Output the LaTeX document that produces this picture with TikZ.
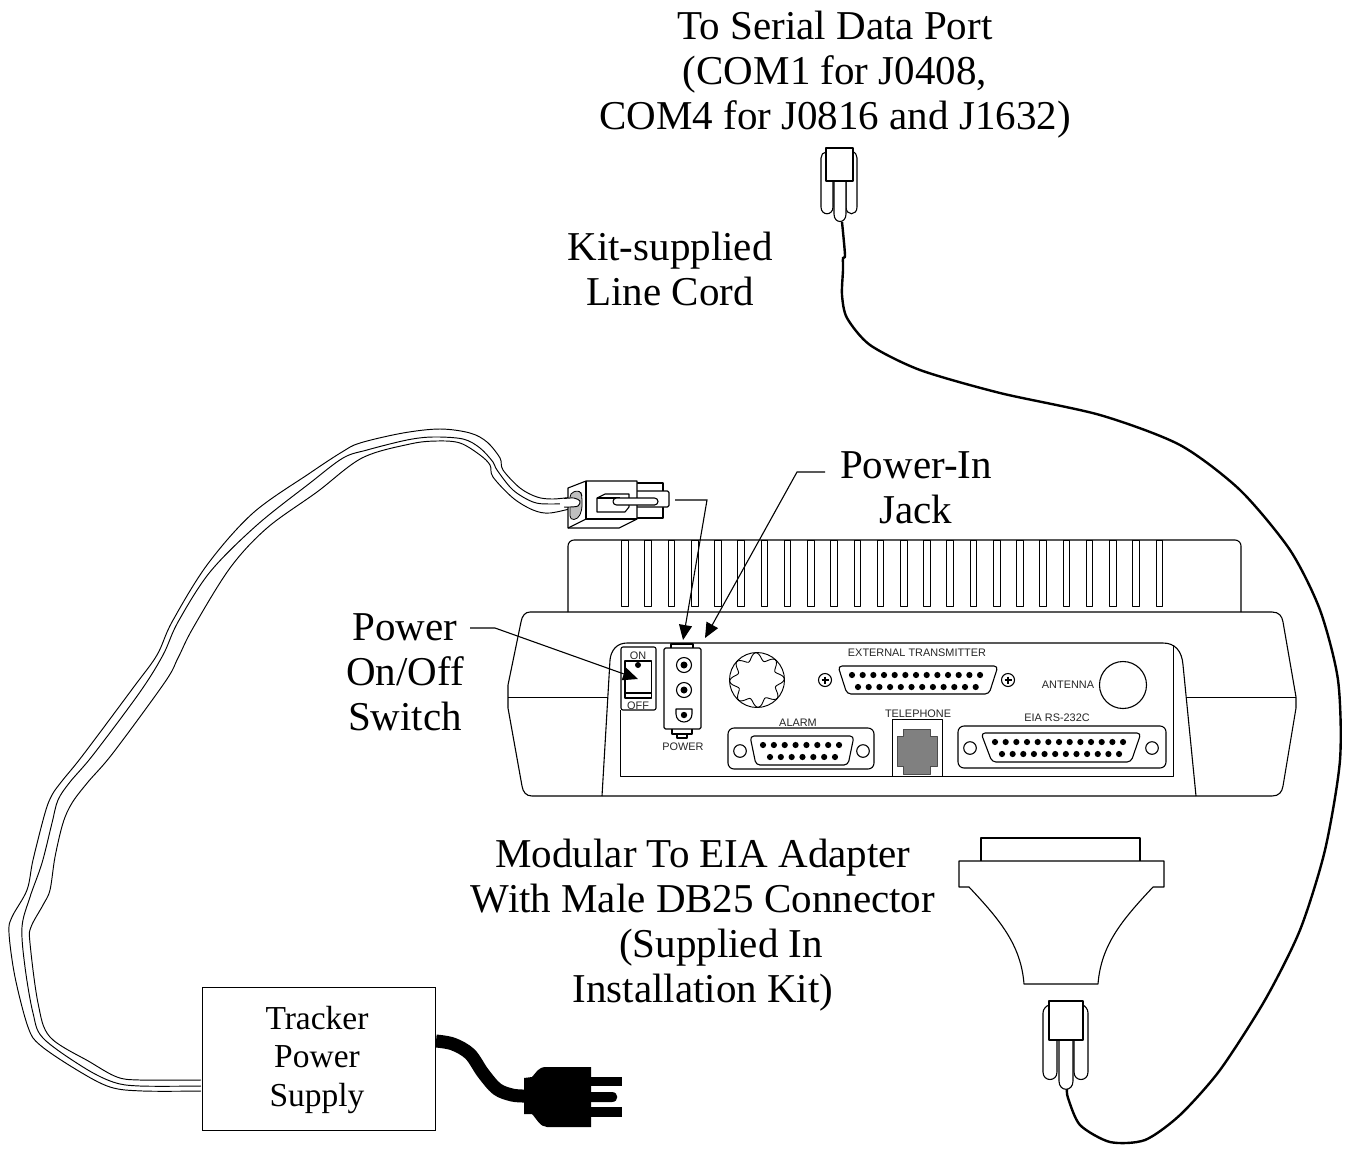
\documentclass[tikz,border=0pt]{standalone}
\usepackage{fontspec}
\setmainfont{Liberation Serif}
\setsansfont{Liberation Sans}
\usetikzlibrary{arrows.meta}
\tikzset{
  ln/.style={line width=1.1pt,line join=round},
  thinln/.style={line width=.95pt,line join=round},
  big/.style={anchor=base,inner sep=0pt,font=\fontsize{41}{45}\selectfont},
  mid/.style={anchor=base,inner sep=0pt,font=\fontsize{33.5}{38}\selectfont},
  small/.style={anchor=base,inner sep=0pt,font=\sffamily\fontsize{10.9}{12}\selectfont,text=black!85},
  leader/.style={line width=1.1pt,-{Triangle[length=15pt,width=13pt]}},
  pindot/.style={fill=black,draw=none},
}
\newcommand{\pinrow}[4]{\foreach \i in {0,...,#3}{\fill[pindot] ({#1+\i*#4},#2) circle (3.1);}}
\begin{document}
\begin{tikzpicture}[x=1pt,y=-1pt]
\useasboundingbox (0,0) rectangle (1351,1149);
% coordinates for the leaders
\coordinate (pijA) at (825,472);
\coordinate (pijB) at (797,472);
\coordinate (pijT) at (705,638);
\coordinate (posA) at (470,628);
\coordinate (posB) at (495,628);
\coordinate (posT) at (638,679);
\coordinate (plA) at (675,500);
\coordinate (plB) at (707,500);
\coordinate (plT) at (683,640);
% texts
\node[big] (t1) at (835,39) {To Serial Data Port};
\node[big] (t2) at (835,84) {(COM1 for J0408,};
\node[big] (t3) at (835,129) {COM4 for J0816 and J1632)};
\node[big] (k1) at (670,260) {Kit-supplied};
\node[big] (k2) at (670,305) {Line Cord};
\node[big] (pi1) at (916,478) {Power-In};
\node[big] (pi2) at (916,523) {Jack};
\node[big] (ps1) at (405,640) {Power};
\node[big] (ps2) at (405,685) {On/Off};
\node[big] (ps3) at (405,730) {Switch};
\node[big] (m1) at (703,867) {Modular To EIA Adapter};
\node[big] (m2) at (703,912) {With Male DB25 Connector};
\node[big] (m3) at (721,957) {(Supplied In};
\node[big] (m4) at (703,1002) {Installation Kit)};
% heat sink
\draw[ln,rounded corners=6] (568,612) -- (568,540) -- (1241,540) -- (1241,612);
\foreach \i in {0,...,23}{\draw[thinln] ({621.7+\i*23.23},540) rectangle ({628.3+\i*23.23},606);}
% body
\draw[ln] (530,612) -- (1272,612) .. controls (1279,612) and (1282,616) .. (1283,622)
  -- (1296,697) -- (1296,708) -- (1283,786) .. controls (1282,792) and (1279,796) .. (1272,796)
  -- (532,796) .. controls (526,796) and (523,792) .. (522,786) -- (508,708) -- (508,685) -- (521,622)
  .. controls (522,616) and (525,612) .. (530,612) -- cycle;
\draw[thinln] (508,697) -- (608,697);
\draw[thinln] (1187,697) -- (1296,697);
% panel
\draw[ln] (602,796) -- (610,660) .. controls (611,650) and (617,643) .. (627,643) -- (1163,643)
  .. controls (1175,643) and (1182,651) .. (1183,665) -- (1196,796);
\draw[thinln] (620,710) -- (620,776) -- (1173,776) -- (1173,645);
% switch
\draw[ln,rounded corners=2] (621,647) rectangle (656,710);
\draw[ln] (625,661) rectangle (651.5,698);
\draw[ln] (625,693) -- (651.5,693);
\fill (638,665) circle (3);
\node[small] (on) at (638,659) {ON};
\node[small] (off) at (638,709) {OFF};
% power block
\draw[ln] (671,648) -- (671,644) -- (693,644) -- (693,648);
\draw[ln,rounded corners=1.5] (664,648) rectangle (701,729);
\draw[ln] (672,729) -- (672,734) -- (692,734) -- (692,729);
\draw[ln] (677,734) -- (677,738) -- (687,738) -- (687,734);
\foreach \y in {665,690}{\draw[ln] (684,\y) circle (7.5); \fill (684,\y) circle (3.5);}
\draw[ln] (676,709) -- (692,709) -- (692,714) .. controls (692,719) and (688,722) .. (684,722) .. controls (680,722) and (676,719) .. (676,714) -- cycle;
\fill (684,715) circle (3.2);
\node[small] (pw) at (683,750) {POWER};
% gear
\draw[thinln] (757,680) circle (27.5);
\draw[line width=.9pt,shift={(757,680)}] plot[smooth cycle,samples=96,domain=0:356.25,variable=\t] (\t:{23.5+3.8*cos(8*\t+20)});
% external transmitter
\node[small] (ext) at (917,656) {EXTERNAL TRANSMITTER};
\draw[ln,rounded corners=4] (838,666) -- (998,666) -- (989,694) -- (847,694) -- cycle;
\pinrow{852}{675}{12}{10.67}
\pinrow{858}{687}{11}{10.7}
\foreach \x in {825,1008}{\draw[ln] (\x,680) circle (6.5); \draw[line width=1.4pt] ({\x-3.5},680) -- ({\x+3.5},680) (\x,676.5) -- (\x,683.5);}
% antenna
\node[small] (ant) at (1068,688) {ANTENNA};
\draw[ln] (1123,685) circle (23.5);
% EIA
\node[small] (eia) at (1057,721) {EIA RS-232C};
\draw[ln,rounded corners=6] (958,726) rectangle (1166,768);
\draw[ln] (970,748) circle (6.3);
\draw[ln] (1152,748) circle (6.3);
\draw[ln,rounded corners=4] (981,733) -- (1141,733) -- (1131,762) -- (992,762) -- cycle;
\pinrow{995}{742}{12}{10.67}
\pinrow{1002}{754}{11}{10.64}
% telephone
\node[small] (tel) at (918,717) {TELEPHONE};
\draw[thinln] (892,776) -- (892,719) -- (942,719) -- (942,776);
\draw[thinln,draw=black!70,fill=black!50] (903,729) -- (930,729) -- (930,736) -- (937,736) -- (937,766) -- (930,766) -- (930,774) -- (903,774) -- (903,766) -- (897,766) -- (897,736) -- (903,736) -- cycle;
% alarm
\node[small] (al) at (798,726) {ALARM};
\draw[ln,rounded corners=6] (728,728) rectangle (874,769);
\draw[ln] (740,751) circle (6.3);
\draw[ln] (863,751) circle (6.3);
\draw[ln,rounded corners=4] (750,736) -- (854,736) -- (848,765) -- (756,765) -- cycle;
\pinrow{763}{745}{7}{10.86}
\pinrow{770}{757}{6}{10.83}
% leaders
\draw[leader] (pijA) -- (pijB) -- (pijT);
\draw[leader] (posA) -- (posB) -- (posT);
\draw[leader] (plA) -- (plB) -- (plT);
% power cord: three strands
\draw[thinln] plot[smooth,tension=0.55] coordinates {(201,1091)(143,1091)(110,1087)(77,1070)(40,1045)(28,1027)(15,977)(9,933)(12,917)(27,890)(33,860)(45,813)(52,795)(62,781)(83,755)(133,688)(157,655)(172,622)(207,565)(253,513)(310,473)(342,452)(360,443)(403,433)(440,429)(470,433)(487,442)(500,458)(503,470)(520,488)(537,497)(553,499)(577,497)(580,501)(578,506)};
\draw[thinln] plot[smooth,tension=0.55] coordinates {(201,1086)(140,1086)(113,1082)(83,1067)(43,1038)(33,1013)(25,967)(22,927)(30,897)(42,863)(52,823)(58,800)(70,782)(93,755)(140,692)(163,655)(178,622)(210,572)(257,525)(310,483)(343,458)(367,450)(407,440)(433,437)(463,439)(480,448)(493,462)(497,470)(513,490)(533,502)(550,504)(577,503)};
\draw[thinln] plot[smooth,tension=0.55] coordinates {(201,1080)(140,1080)(117,1077)(90,1062)(50,1037)(38,1003)(30,943)(31,927)(43,905)(50,890)(55,857)(63,823)(72,803)(88,782)(113,753)(165,682)(178,658)(193,628)(230,568)(267,528)(317,492)(362,458)(410,444)(437,441)(460,443)(480,455)(490,465)(493,477)(513,498)(533,510)(550,513)(577,507)};
% power connector
\draw[ln,fill=white] (637,483) -- (663,483) -- (663,518) -- (637,518);
\draw[ln,fill=white,rounded corners=1.5] (637,491) -- (669,491) -- (669,507) -- (637,507);
\draw[ln,fill=white] (568,488) -- (586,481) -- (637,481) -- (637,519) -- (619,528) -- (568,528) -- cycle;
\draw[ln] (586,481) -- (586,519) -- (637,519);
\draw[ln] (586,519) -- (568,528);
\draw[line width=.8pt,fill=black!25,rounded corners=4] (570,493) -- (580,490) -- (582,496) -- (582,510) -- (578,519) -- (570,520) -- cycle;
\draw[ln,fill=white] (597,498) -- (605,494) -- (629,494) -- (629,507) -- (625,512) -- (597,512) -- cycle;
\draw[ln] (597,498) -- (620,498);
\draw[ln,fill=white,rounded corners=3.5] (613,498) rectangle (658,505);
\draw[thinln,fill=white] plot[smooth,tension=0.5] coordinates {(564,498.5)(574,498)(580,501)(578,506)(570,507)(564,507)};
\fill[white] (560,499.6) rectangle (575,505.6);
% line cord
\draw[line width=2.4pt] plot[smooth,tension=0.45] coordinates {(842,222)(845,255)(843,258)(843,270)(842,295)(847,318)(870,345)(920,370)(1000,393)(1100,415)(1180,445)(1240,490)(1290,550)(1320,610)(1338,680)(1340,760)(1325,850)(1300,930)(1265,1000)(1220,1070)(1180,1115)(1145,1140)(1110,1142)(1080,1125)(1068,1098)(1067,1089)};
% top modular connector
\draw[ln,fill=white] (821,207) .. controls (821,216) and (833,216) .. (833,207) -- (833,181) -- (826,152) .. controls (823,152) and (821,155) .. (821,158) -- cycle;
\draw[ln,fill=white] (846,207) .. controls (846,216) and (857,216) .. (857,207) -- (857,158) .. controls (857,155) and (855,152) .. (853,152) -- (846,181) -- cycle;
\draw[ln,fill=white] (834,181) -- (834,214) .. controls (834,224) and (846,224) .. (846,214) -- (846,181);
\draw[ln,fill=white] (826,148) rectangle (853,181);
% adapter
\draw[ln,fill=white] (981,861) -- (981,838) -- (1140,838) -- (1140,861);
\draw[ln,fill=white] (959,861) -- (1164,861) -- (1164,887) -- (1153,887) .. controls (1122,920) and (1101,945) .. (1098,984) -- (1024,984) .. controls (1021,945) and (1000,920) .. (969,887) -- (959,887) -- cycle;
% bottom modular connector
\draw[ln,fill=white] (1043,1072) .. controls (1043,1082) and (1057,1082) .. (1057,1072) -- (1057,1040) -- (1049,1005) .. controls (1046,1006) and (1043,1009) .. (1043,1013) -- cycle;
\draw[ln,fill=white] (1074,1072) .. controls (1074,1082) and (1088,1082) .. (1088,1072) -- (1088,1013) .. controls (1088,1009) and (1085,1006) .. (1083,1005) -- (1074,1040) -- cycle;
\draw[ln,fill=white] (1059,1040) -- (1059,1081) .. controls (1059,1092) and (1073,1092) .. (1073,1081) -- (1073,1040);
\draw[ln,fill=white] (1049,1001) rectangle (1083,1040);
% power supply
\node[draw,line width=1.1pt,minimum width=233pt,minimum height=143pt,inner sep=0pt,anchor=north west,fill=white] (psu) at (202,987) {};
\node[mid] (tr1) at (317,1029) {Tracker};
\node[mid] (tr2) at (317,1067) {Power};
\node[mid] (tr3) at (317,1106) {Supply};
% plug
\coordinate (plugIn) at (524,1096);
\draw[line width=13pt] plot[smooth,tension=0.55] coordinates {(436,1041)(453,1044)(470,1054)(483,1073)(497,1089)(512,1095)(plugIn)};
\fill (524,1078) -- (532,1077) .. controls (536,1073) and (538,1067) .. (546,1067) -- (591,1067) -- (591,1127) -- (547,1127) .. controls (540,1127) and (536,1118) .. (532,1114) -- (524,1114) -- cycle;
\fill (590,1077) rectangle (622,1086);
\fill (590,1107) rectangle (622,1117);
\fill (590,1092) -- (612,1092) .. controls (619,1092) and (619,1102) .. (612,1102) -- (590,1102) -- cycle;
\end{tikzpicture}
\end{document}
